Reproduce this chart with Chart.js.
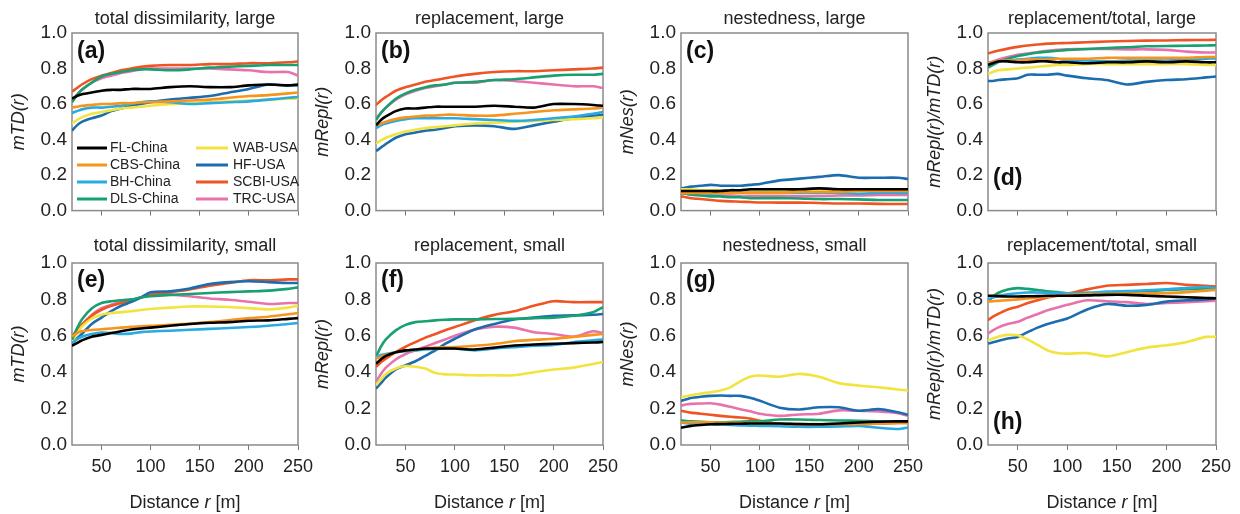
<!DOCTYPE html>
<html><head><meta charset="utf-8">
<script src="https://cdn.jsdelivr.net/npm/chart.js@4.4.1/dist/chart.umd.min.js"></script>
<style>
html,body{margin:0;padding:0;background:#fff;width:1240px;height:514px;overflow:hidden;position:relative}
canvas{position:absolute}
</style></head><body>
<script>
// ---------------- DATA ----------------
const distances = [20,25,30,40,50,60,70,80,90,100,120,140,160,180,200,220,240,250];
const seriesNames = ['FL-China','CBS-China','BH-China','DLS-China','WAB-USA','HF-USA','SCBI-USA','TRC-USA'];
const xTickValues = [50,100,150,200,250];
const yTickValues = [0,0.2,0.4,0.6,0.8,1.0];
const panelTitles = ['total dissimilarity, large','replacement, large','nestedness, large','replacement/total, large',
                     'total dissimilarity, small','replacement, small','nestedness, small','replacement/total, small'];
const panelYTitles = ['mTD(r)','mRepl(r)','mNes(r)','mRepl(r)/mTD(r)','mTD(r)','mRepl(r)','mNes(r)','mRepl(r)/mTD(r)'];
const panelLetters = ['(a)','(b)','(c)','(d)','(e)','(f)','(g)','(h)'];
const xAxisTitle = ['Distance ','r',' [m]'];

// series order: FL, CBS, BH, DLS, WAB, HF, SCBI, TRC
const totalLarge = [
 [0.63,0.645,0.655,0.665,0.675,0.68,0.68,0.685,0.685,0.685,0.695,0.70,0.695,0.695,0.705,0.71,0.705,0.71],
 [0.58,0.585,0.59,0.595,0.60,0.60,0.605,0.605,0.61,0.61,0.615,0.62,0.625,0.635,0.645,0.65,0.66,0.665],
 [0.55,0.56,0.57,0.58,0.58,0.585,0.59,0.60,0.61,0.615,0.61,0.60,0.605,0.61,0.615,0.625,0.635,0.64],
 [0.61,0.65,0.68,0.72,0.755,0.77,0.78,0.79,0.795,0.795,0.79,0.795,0.805,0.81,0.815,0.82,0.82,0.82],
 [0.49,0.51,0.525,0.545,0.555,0.565,0.575,0.58,0.585,0.59,0.60,0.605,0.61,0.615,0.62,0.625,0.63,0.63],
 [0.45,0.48,0.50,0.52,0.535,0.56,0.575,0.59,0.60,0.61,0.625,0.635,0.645,0.665,0.685,0.71,0.705,0.705],
 [0.67,0.69,0.71,0.74,0.76,0.775,0.79,0.80,0.81,0.815,0.82,0.82,0.825,0.825,0.83,0.83,0.835,0.84],
 [0.62,0.65,0.68,0.72,0.745,0.76,0.775,0.785,0.795,0.80,0.80,0.80,0.80,0.795,0.79,0.78,0.78,0.76]
];
const replLarge = [
 [0.48,0.51,0.53,0.56,0.575,0.575,0.58,0.585,0.585,0.585,0.585,0.59,0.585,0.58,0.60,0.60,0.595,0.59],
 [0.48,0.49,0.50,0.515,0.525,0.53,0.535,0.535,0.54,0.54,0.535,0.535,0.545,0.555,0.565,0.57,0.575,0.58],
 [0.465,0.48,0.49,0.505,0.515,0.52,0.52,0.52,0.52,0.52,0.515,0.51,0.505,0.51,0.52,0.53,0.545,0.555],
 [0.51,0.55,0.58,0.63,0.66,0.68,0.695,0.705,0.71,0.72,0.725,0.735,0.74,0.75,0.76,0.765,0.765,0.77],
 [0.38,0.395,0.41,0.43,0.445,0.455,0.465,0.47,0.475,0.48,0.49,0.495,0.50,0.505,0.51,0.515,0.52,0.525],
 [0.335,0.355,0.375,0.41,0.43,0.44,0.45,0.455,0.465,0.475,0.48,0.475,0.46,0.48,0.50,0.52,0.535,0.54],
 [0.595,0.62,0.64,0.675,0.695,0.71,0.725,0.735,0.745,0.755,0.77,0.78,0.785,0.785,0.79,0.795,0.80,0.805],
 [0.52,0.55,0.58,0.625,0.655,0.675,0.69,0.70,0.71,0.72,0.72,0.735,0.73,0.72,0.71,0.70,0.70,0.69]
];
const nestLarge = [
 [0.11,0.11,0.11,0.11,0.11,0.11,0.115,0.115,0.12,0.12,0.12,0.12,0.125,0.12,0.12,0.12,0.12,0.12],
 [0.10,0.10,0.10,0.10,0.10,0.10,0.10,0.10,0.10,0.10,0.10,0.105,0.105,0.105,0.11,0.11,0.11,0.11],
 [0.105,0.10,0.10,0.10,0.095,0.10,0.10,0.10,0.10,0.10,0.10,0.10,0.10,0.10,0.095,0.10,0.10,0.10],
 [0.10,0.095,0.09,0.085,0.08,0.08,0.075,0.075,0.07,0.07,0.07,0.068,0.065,0.065,0.063,0.06,0.06,0.06],
 [0.12,0.12,0.12,0.115,0.115,0.115,0.11,0.11,0.11,0.11,0.11,0.113,0.11,0.11,0.11,0.115,0.115,0.12],
 [0.125,0.13,0.135,0.14,0.145,0.14,0.14,0.14,0.145,0.15,0.17,0.18,0.19,0.20,0.185,0.185,0.185,0.178],
 [0.08,0.075,0.07,0.065,0.06,0.055,0.052,0.05,0.048,0.046,0.045,0.045,0.043,0.04,0.04,0.038,0.037,0.037],
 [0.095,0.095,0.09,0.09,0.085,0.085,0.085,0.08,0.08,0.08,0.08,0.08,0.082,0.085,0.085,0.088,0.088,0.088]
];
const ratioLarge = [
 [0.82,0.83,0.84,0.84,0.835,0.835,0.84,0.84,0.835,0.835,0.83,0.835,0.835,0.84,0.835,0.84,0.835,0.835],
 [0.83,0.835,0.84,0.845,0.845,0.85,0.85,0.85,0.855,0.855,0.855,0.86,0.86,0.86,0.86,0.86,0.865,0.865],
 [0.83,0.835,0.84,0.845,0.85,0.855,0.86,0.86,0.855,0.845,0.845,0.84,0.845,0.845,0.845,0.85,0.855,0.857],
 [0.805,0.82,0.835,0.855,0.87,0.88,0.89,0.895,0.90,0.905,0.91,0.915,0.92,0.925,0.927,0.928,0.93,0.931],
 [0.77,0.78,0.79,0.795,0.80,0.805,0.81,0.815,0.82,0.82,0.825,0.825,0.825,0.825,0.825,0.825,0.82,0.82],
 [0.73,0.73,0.735,0.74,0.745,0.765,0.765,0.765,0.77,0.76,0.745,0.735,0.71,0.725,0.735,0.74,0.75,0.755],
 [0.885,0.893,0.90,0.912,0.922,0.93,0.935,0.94,0.942,0.944,0.948,0.952,0.955,0.957,0.958,0.96,0.961,0.962],
 [0.83,0.84,0.85,0.865,0.877,0.885,0.892,0.90,0.905,0.908,0.91,0.91,0.908,0.908,0.905,0.895,0.89,0.89]
];
const totalSmall = [
 [0.545,0.56,0.575,0.595,0.605,0.615,0.625,0.635,0.64,0.645,0.655,0.665,0.672,0.675,0.683,0.685,0.693,0.697],
 [0.596,0.615,0.625,0.632,0.636,0.64,0.645,0.65,0.652,0.655,0.66,0.668,0.675,0.685,0.697,0.705,0.718,0.725],
 [0.56,0.58,0.595,0.61,0.618,0.615,0.61,0.612,0.62,0.624,0.628,0.633,0.638,0.643,0.648,0.655,0.665,0.67],
 [0.578,0.64,0.69,0.75,0.78,0.79,0.795,0.80,0.81,0.817,0.825,0.83,0.835,0.84,0.844,0.848,0.858,0.866],
 [0.569,0.61,0.65,0.695,0.716,0.725,0.73,0.735,0.742,0.747,0.755,0.761,0.761,0.758,0.752,0.745,0.755,0.765],
 [0.56,0.585,0.61,0.665,0.70,0.735,0.765,0.785,0.81,0.839,0.845,0.86,0.885,0.895,0.90,0.895,0.89,0.89],
 [0.596,0.63,0.66,0.71,0.743,0.765,0.78,0.795,0.81,0.826,0.84,0.855,0.875,0.89,0.905,0.905,0.91,0.91],
 [0.578,0.62,0.66,0.715,0.752,0.77,0.785,0.795,0.81,0.826,0.826,0.817,0.805,0.798,0.787,0.775,0.78,0.78]
];
const replSmall = [
 [0.447,0.47,0.49,0.51,0.52,0.525,0.53,0.53,0.53,0.53,0.525,0.535,0.547,0.552,0.556,0.56,0.563,0.566],
 [0.474,0.485,0.495,0.51,0.52,0.525,0.53,0.535,0.537,0.538,0.545,0.555,0.57,0.578,0.584,0.594,0.605,0.61],
 [0.484,0.495,0.50,0.51,0.515,0.52,0.525,0.528,0.53,0.53,0.52,0.53,0.538,0.545,0.55,0.565,0.575,0.58],
 [0.484,0.54,0.58,0.63,0.66,0.675,0.68,0.685,0.688,0.69,0.69,0.692,0.693,0.697,0.70,0.71,0.73,0.757],
 [0.328,0.36,0.39,0.42,0.434,0.43,0.42,0.395,0.388,0.387,0.383,0.383,0.383,0.40,0.415,0.425,0.445,0.456],
 [0.31,0.34,0.37,0.415,0.438,0.46,0.49,0.52,0.555,0.584,0.635,0.665,0.69,0.70,0.71,0.712,0.716,0.72],
 [0.43,0.455,0.475,0.51,0.54,0.565,0.59,0.61,0.63,0.648,0.685,0.715,0.735,0.765,0.79,0.785,0.785,0.785],
 [0.347,0.39,0.425,0.47,0.50,0.52,0.54,0.56,0.58,0.60,0.635,0.65,0.645,0.62,0.61,0.595,0.625,0.615]
];
const nestSmall = [
 [0.095,0.10,0.105,0.11,0.114,0.115,0.116,0.117,0.118,0.118,0.118,0.115,0.114,0.118,0.124,0.128,0.13,0.13],
 [0.124,0.124,0.125,0.125,0.125,0.123,0.122,0.121,0.12,0.12,0.118,0.115,0.115,0.115,0.115,0.117,0.12,0.12],
 [0.124,0.12,0.118,0.116,0.114,0.112,0.11,0.108,0.106,0.105,0.103,0.10,0.10,0.102,0.105,0.095,0.088,0.096],
 [0.135,0.132,0.13,0.127,0.125,0.125,0.126,0.128,0.13,0.13,0.14,0.14,0.137,0.135,0.133,0.13,0.127,0.124],
 [0.262,0.268,0.273,0.283,0.29,0.30,0.317,0.35,0.375,0.382,0.375,0.391,0.375,0.34,0.327,0.317,0.305,0.30],
 [0.243,0.25,0.258,0.265,0.27,0.272,0.27,0.27,0.26,0.243,0.205,0.195,0.207,0.207,0.188,0.197,0.18,0.166],
 [0.188,0.183,0.178,0.172,0.166,0.16,0.155,0.151,0.145,0.133,0.115,0.105,0.105,0.11,0.114,0.118,0.122,0.124],
 [0.216,0.222,0.226,0.228,0.229,0.222,0.21,0.197,0.185,0.172,0.16,0.168,0.172,0.19,0.188,0.185,0.175,0.16]
];
const ratioSmall = [
 [0.82,0.82,0.818,0.816,0.816,0.817,0.818,0.82,0.82,0.82,0.822,0.825,0.825,0.82,0.816,0.812,0.808,0.806],
 [0.788,0.79,0.792,0.796,0.80,0.805,0.81,0.815,0.82,0.825,0.828,0.83,0.832,0.833,0.834,0.84,0.848,0.852],
 [0.80,0.81,0.818,0.828,0.834,0.838,0.838,0.836,0.835,0.834,0.836,0.843,0.846,0.85,0.856,0.862,0.868,0.862],
 [0.788,0.815,0.835,0.855,0.862,0.858,0.852,0.845,0.84,0.834,0.835,0.838,0.84,0.845,0.852,0.856,0.86,0.862],
 [0.575,0.585,0.595,0.605,0.603,0.58,0.55,0.52,0.505,0.502,0.505,0.487,0.51,0.535,0.548,0.565,0.594,0.594],
 [0.557,0.565,0.572,0.585,0.594,0.62,0.645,0.665,0.68,0.695,0.745,0.775,0.765,0.77,0.788,0.795,0.80,0.806],
 [0.686,0.705,0.72,0.745,0.76,0.78,0.795,0.81,0.82,0.83,0.855,0.875,0.88,0.885,0.89,0.88,0.875,0.87],
 [0.613,0.63,0.645,0.665,0.677,0.70,0.72,0.74,0.755,0.77,0.795,0.79,0.785,0.775,0.78,0.785,0.79,0.793]
];
const panelData = [totalLarge, replLarge, nestLarge, ratioLarge, totalSmall, replSmall, nestSmall, ratioSmall];

// ---------------- STYLE / LAYOUT ----------------
const seriesColors = ['#000000','#F7941E','#29ABE2','#17A070','#F2E33E','#1C6DB0','#EF5424','#E873AC'];
const FONT = "'Liberation Sans', Arial, sans-serif";
const TEXT = '#222222';
Chart.defaults.font.family = FONT;
Chart.defaults.color = TEXT;

const cols = [{l:72,r:298},{l:376,r:603},{l:681,r:908},{l:988,r:1216}];
const rows = [{t:33,b:217,padTop:8},{t:263,b:445,padTop:5}];
const Y_AXIS_W = 72, RIGHT_PAD = 24, TITLE_H = 33, TITLE_LH = 22;
const letterPos = [{dy:19},{dy:19},{dy:19},{dy:-32,fromBottom:true},{dy:18},{dy:18},{dy:18},{dy:-22,fromBottom:true}];

const framePlugin = {
  id:'frame',
  beforeDatasetsDraw(chart){
    const {ctx, chartArea:a} = chart;
    ctx.save(); ctx.strokeStyle = '#8a8a8a'; ctx.lineWidth = 1.5;
    ctx.strokeRect(a.left, a.top, a.right-a.left, a.bottom-a.top); ctx.restore();
  }
};
const letterPlugin = {
  id:'letter',
  afterDatasetsDraw(chart, args, opts){
    const {ctx, chartArea:a} = chart;
    ctx.save(); ctx.font = "bold 23px " + FONT; ctx.fillStyle = '#111';
    ctx.textBaseline = 'middle'; ctx.textAlign = 'left';
    const y = opts.fromBottom ? a.bottom + opts.dy : a.top + opts.dy;
    ctx.fillText(opts.text, a.left + 5, y); ctx.restore();
  }
};
const xTitlePlugin = {
  id:'xtitle',
  afterDraw(chart, args, opts){
    if(!opts.show) return;
    const {ctx, chartArea:a} = chart;
    ctx.save(); ctx.fillStyle = TEXT; ctx.textBaseline = 'middle'; ctx.textAlign = 'left';
    const fonts = ["18px " + FONT, "italic 18px " + FONT, "18px " + FONT];
    let total = 0; const widths = [];
    xAxisTitle.forEach((t,i)=>{ ctx.font = fonts[i]; const w = ctx.measureText(t).width; widths.push(w); total += w; });
    let x = (a.left + a.right)/2 - total/2; const y = chart.height - 11;
    xAxisTitle.forEach((t,i)=>{ ctx.font = fonts[i]; ctx.fillText(t, x, y); x += widths[i]; });
    ctx.restore();
  }
};
const legendPlugin = {
  id:'insideLegend',
  afterDatasetsDraw(chart, args, opts){
    if(!opts.show) return;
    const {ctx, chartArea:a} = chart;
    ctx.save(); ctx.font = "14px " + FONT; ctx.textBaseline = 'middle'; ctx.textAlign = 'left';
    const rowsY = [115,132,149,166];
    const colX = [{l0:5,l1:35,t:38},{l0:124,l1:156,t:161}];
    chart.data.datasets.forEach((ds,i)=>{
      const c = colX[Math.floor(i/4)], y = a.top + rowsY[i%4];
      ctx.strokeStyle = ds.borderColor; ctx.lineWidth = 3;
      ctx.beginPath(); ctx.moveTo(a.left + c.l0, y); ctx.lineTo(a.left + c.l1, y); ctx.stroke();
      ctx.fillStyle = TEXT; ctx.fillText(ds.label, a.left + c.t, y);
    });
    ctx.restore();
  }
};

function makePanel(i){
  const row = Math.floor(i/4), col = i % 4;
  const c = cols[col], r = rows[row];
  const left = c.l - Y_AXIS_W, top = r.t - TITLE_H;
  const xAxisH = row === 1 ? 514 - r.b : 10;
  const w = (c.r - c.l) + Y_AXIS_W + RIGHT_PAD;
  const h = TITLE_H + (r.b - r.t) + xAxisH;
  const cv = document.createElement('canvas');
  cv.width = w; cv.height = h;
  cv.style.left = left + 'px'; cv.style.top = top + 'px';
  cv.style.width = w + 'px'; cv.style.height = h + 'px';
  document.body.appendChild(cv);

  const datasets = panelData[i].map((vals, k) => ({
    label: seriesNames[k],
    data: distances.map((d, j) => ({x: d, y: vals[j]})),
    borderColor: seriesColors[k], backgroundColor: seriesColors[k],
    borderWidth: 2.6, pointRadius: 0, tension: 0.25, fill: false
  }));

  new Chart(cv, {
    type: 'line',
    data: { datasets },
    plugins: [framePlugin, letterPlugin, xTitlePlugin, legendPlugin],
    options: {
      responsive: false, animation: false, devicePixelRatio: 1,
      layout: { padding: { left: 0, right: RIGHT_PAD, top: 0, bottom: 0 } },
      plugins: {
        legend: { display: false }, tooltip: { enabled: false },
        title: { display: true, text: panelTitles[i], fullSize: false, color: TEXT,
                 font: { size: 18, weight: 'normal', lineHeight: TITLE_LH + 'px' },
                 padding: { top: r.padTop, bottom: TITLE_H - TITLE_LH - r.padTop } },
        letter: Object.assign({ text: panelLetters[i] }, letterPos[i]),
        xtitle: { show: row === 1 },
        insideLegend: { show: i === 0 }
      },
      scales: {
        x: {
          type: 'linear', min: 20, max: 250,
          afterBuildTicks: s => { s.ticks = xTickValues.map(v => ({ value: v })); },
          afterFit: s => { s.height = xAxisH; },
          ticks: { display: row === 1, font: { size: 18 }, color: TEXT, padding: 6, maxRotation: 0, autoSkip: false,
                   callback: v => String(v) },
          grid: { display: true, drawOnChartArea: false, drawTicks: true, tickLength: 5, color: '#777', lineWidth: 1 },
          border: { display: false }
        },
        y: {
          type: 'linear', min: 0, max: 1,
          afterBuildTicks: s => { s.ticks = yTickValues.map(v => ({ value: v })); },
          afterFit: s => { s.width = Y_AXIS_W; },
          ticks: { font: { size: 19 }, color: TEXT, padding: 5, callback: v => Number(v).toFixed(1) },
          grid: { display: false, drawTicks: false },
          border: { display: false },
          title: { display: true, text: panelYTitles[i], color: TEXT, font: { size: 18, style: 'italic' },
                   padding: { top: 8, bottom: 0 } }
        }
      }
    }
  });
}
for (let i = 0; i < 8; i++) makePanel(i);
</script>
</body></html>
